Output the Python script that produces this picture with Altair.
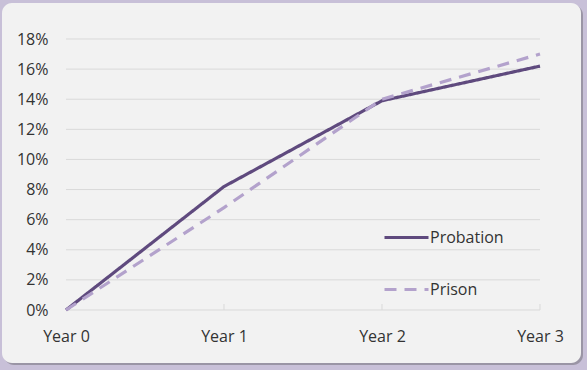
import altair as alt
import pandas as pd

# Cumulative reoffending rate by years since release / start of sentence
years = ["Year 0", "Year 1", "Year 2", "Year 3"]
probation = [0.0, 0.082, 0.139, 0.162]
prison = [0.0, 0.068, 0.140, 0.170]
series_names = ["Probation", "Prison"]
series_colors = ["#5f4a7e", "#b3a2cc"]
y_ticks = [0.0, 0.02, 0.04, 0.06, 0.08, 0.10, 0.12, 0.14, 0.16, 0.18]

W, H = 474, 271
FONT = "Open Sans"

lines_df = pd.DataFrame(
    {
        "year": years * 2,
        "rate": probation + prison,
        "series": [series_names[0]] * len(years) + [series_names[1]] * len(years),
    }
)
grid_df = pd.DataFrame({"rate": y_ticks})
tick_df = pd.DataFrame({"year": years[1:]})
one = pd.DataFrame({"k": [0]})

x_scale = alt.Scale(type="point", domain=years, range=[0, W], padding=0)
y_scale = alt.Scale(domain=[0, 0.18], nice=False, zero=True)

x_axis = alt.Axis(
    title=None,
    labelAngle=0,
    labelFont=FONT,
    labelFontSize=16,
    labelColor="#333333",
    labelPadding=18,
    ticks=False,
    domain=False,
    grid=False,
    zindex=1,
)
y_axis = alt.Axis(
    title=None,
    values=y_ticks,
    format=".0%",
    labelFont=FONT,
    labelFontSize=16,
    labelColor="#333333",
    labelPadding=18,
    ticks=False,
    domain=False,
    grid=False,
    zindex=1,
)

# rounded card with a soft shadow behind the plot
shadow = alt.Chart(one).mark_rect(cornerRadius=10, fill="#8f8a99", opacity=0.8).encode(
    x=alt.value(-62), x2=alt.value(517), y=alt.value(-34), y2=alt.value(326)
)
card = alt.Chart(one).mark_rect(cornerRadius=10, fill="#f2f2f2").encode(
    x=alt.value(-64), x2=alt.value(515), y=alt.value(-36), y2=alt.value(324)
)

grid = alt.Chart(grid_df).mark_rule(color="#d9d9d9", strokeWidth=1).encode(
    y=alt.Y("rate:Q", scale=y_scale, axis=y_axis),
    x=alt.value(0),
    x2=alt.value(W),
)

ticks = alt.Chart(tick_df).mark_rule(color="#d9d9d9", strokeWidth=1).encode(
    x=alt.X("year:N", scale=x_scale, sort=years, axis=x_axis),
    y=alt.value(H - 6),
    y2=alt.value(H),
)

lines = alt.Chart(lines_df).mark_line(strokeWidth=3.2).encode(
    x=alt.X("year:N", scale=x_scale, sort=years, axis=x_axis),
    y=alt.Y("rate:Q", scale=y_scale, axis=y_axis),
    color=alt.Color(
        "series:N",
        scale=alt.Scale(domain=series_names, range=series_colors),
        legend=alt.Legend(
            title=None,
            orient="none",
            legendX=317,
            legendY=175,
            padding=0,
            symbolType="stroke",
            symbolSize=1936,
            symbolStrokeWidth=3,
            labelFont=FONT,
            labelFontSize=16,
            labelColor="#333333",
            labelOffset=0,
            rowPadding=20,
            zindex=1,
        ),
    ),
    strokeDash=alt.StrokeDash(
        "series:N",
        scale=alt.Scale(domain=series_names, range=[[1, 0], [12, 8]]),
        legend=None,
    ),
)

chart = (
    alt.layer(shadow, card, grid, ticks, lines)
    .properties(
        width=W,
        height=H,
        autosize=alt.AutoSizeParams(type="none"),
        padding={"left": 66, "top": 39, "right": 47, "bottom": 60},
        background="#c8c0d8",
    )
    .configure_view(stroke=None)
)

chart.save("out.html", embed_options={"renderer": "svg", "actions": False})
